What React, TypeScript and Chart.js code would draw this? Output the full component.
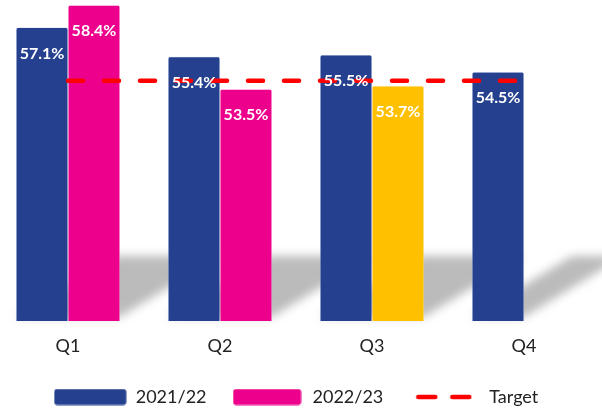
import React, { useEffect, useRef } from "react";
import { Chart, registerables } from "chart.js";

Chart.register(...registerables);

const categories = ["Q1", "Q2", "Q3", "Q4"];
const series2122 = [57.1, 55.4, 55.5, 54.5];
const series2223 = [58.4, 53.5, 53.7, null];
const target = [54.0, 54.0, 54.0, 54.0];
const seriesNames = ["2021/22", "2022/23", "Target"];

const BLUE = "#24408E";
const PINK = "#EC008C";
const YELLOW = "#FFC000";
const RED = "#FF0000";
const FONT = "Lato, 'DejaVu Sans', sans-serif";

function makeBox(color: string, w: number, h: number) {
  const c = document.createElement("canvas");
  c.width = w;
  c.height = h;
  const ctx = c.getContext("2d")!;
  ctx.fillStyle = color;
  ctx.beginPath();
  (ctx as any).roundRect(0.5, 0.5, w - 1, h - 1, 3);
  ctx.fill();
  return c;
}

function makeDash(w: number, h: number) {
  const c = document.createElement("canvas");
  c.width = w;
  c.height = h;
  const ctx = c.getContext("2d")!;
  ctx.strokeStyle = RED;
  ctx.lineWidth = 4.5;
  ctx.lineCap = "round";
  ctx.beginPath();
  ctx.moveTo(3, h / 2);
  ctx.lineTo(20, h / 2);
  ctx.moveTo(37, h / 2);
  ctx.lineTo(54, h / 2);
  ctx.stroke();
  return c;
}

const shadowPlugin = {
  id: "groundShadow",
  beforeDatasetsDraw(chart: any) {
    const ctx = chart.ctx;
    const m0 = chart.getDatasetMeta(1).data;
    const m1 = chart.getDatasetMeta(2).data;
    const base = chart.chartArea.bottom;
    ctx.save();
    ctx.filter = "blur(5px)";
    ctx.fillStyle = "rgba(120,120,120,0.5)";
    for (let i = 0; i < categories.length; i++) {
      const b0 = m0[i];
      const b1 = series2223[i] != null ? m1[i] : null;
      const xL = b0.x - b0.width / 2;
      const last = b1 || b0;
      const xR = last.x + last.width / 2;
      const dx = 100;
      const dy = 65;
      ctx.beginPath();
      ctx.moveTo(xL, base - 4);
      ctx.lineTo(xR, base - 4);
      ctx.lineTo(xR + dx, base - dy);
      ctx.lineTo(xL + dx, base - dy);
      ctx.closePath();
      ctx.fill();
    }
    ctx.restore();
  },
};

const labelPlugin = {
  id: "barLabels",
  afterDatasetsDraw(chart: any) {
    const ctx = chart.ctx;
    ctx.save();
    ctx.font = `bold 16px ${FONT}`;
    ctx.fillStyle = "#FFFFFF";
    ctx.textAlign = "center";
    ctx.textBaseline = "middle";
    [1, 2].forEach((di) => {
      const meta = chart.getDatasetMeta(di);
      const vals = di === 1 ? series2122 : series2223;
      meta.data.forEach((bar: any, i: number) => {
        const v = vals[i];
        if (v == null) return;
        ctx.fillText(v.toFixed(1) + "%", bar.x, bar.y + 26);
      });
    });
    ctx.restore();
  },
};

export default function App() {
  const ref = useRef<HTMLCanvasElement>(null);
  useEffect(() => {
    const blueImg = makeBox(BLUE, 73, 17);
    const pinkImg = makeBox(PINK, 69, 17);
    const dashImg = makeDash(57, 10);
    const chart = new Chart(ref.current!, {
      type: "bar",
      data: {
        labels: categories,
        datasets: [
          {
            type: "line",
            label: seriesNames[2],
            data: target,
            borderColor: RED,
            borderWidth: 4.5,
            borderDash: [15, 21],
            borderCapStyle: "round",
            pointRadius: 0,
            fill: false,
            order: 0,
          } as any,
          {
            label: seriesNames[0],
            data: series2122,
            backgroundColor: BLUE,
            borderColor: "rgba(150,165,210,0.8)",
            borderWidth: 0.6,
            borderRadius: 2,
            borderSkipped: "bottom",
            order: 1,
          },
          {
            label: seriesNames[1],
            data: series2223,
            backgroundColor: [PINK, PINK, YELLOW, PINK],
            borderColor: ["rgba(255,150,210,0.8)", "rgba(255,150,210,0.8)", "rgba(255,225,150,0.8)", PINK],
            borderWidth: 0.6,
            borderRadius: 2,
            borderSkipped: "bottom",
            order: 1,
          },
        ],
      },
      options: {
        responsive: false,
        animation: false,
        layout: { padding: { left: 0, right: 12, top: 0, bottom: 0 } },
        datasets: {
          bar: { categoryPercentage: 0.684, barPercentage: 1.0 },
        },
        scales: {
          x: {
            grid: { display: false, drawTicks: false },
            border: { display: false },
            ticks: { font: { family: FONT, size: 18 }, color: "#222", padding: 14 },
            afterFit: (scale: any) => {
              scale.height = 43;
            },
          },
          y: { display: false, min: 40, max: 58.7 },
        },
        plugins: {
          tooltip: { enabled: false },
          legend: {
            position: "bottom",
            labels: {
              usePointStyle: true,
              pointStyleWidth: 73,
              boxHeight: 18,
              padding: 24,
              color: "#222",
              font: { family: FONT, size: 18 },
              generateLabels: () => [
                { text: seriesNames[0], pointStyle: blueImg, fillStyle: BLUE, strokeStyle: "transparent", lineWidth: 0, hidden: false, datasetIndex: 1, fontColor: "#222" },
                { text: seriesNames[1], pointStyle: pinkImg, fillStyle: PINK, strokeStyle: "transparent", lineWidth: 0, hidden: false, datasetIndex: 2, fontColor: "#222" },
                { text: seriesNames[2], pointStyle: dashImg, fillStyle: RED, strokeStyle: "transparent", lineWidth: 0, hidden: false, datasetIndex: 0, fontColor: "#222" },
              ] as any,
            },
          },
        },
      } as any,
      plugins: [shadowPlugin, labelPlugin],
    });
    return () => chart.destroy();
  }, []);
  return (
    <div style={{ position: "absolute", left: -8, top: 0, width: 610, height: 409, overflow: "hidden", background: "#fff" }}>
      <canvas ref={ref} width={620} height={416} style={{ display: "block" }} />
    </div>
  );
}
